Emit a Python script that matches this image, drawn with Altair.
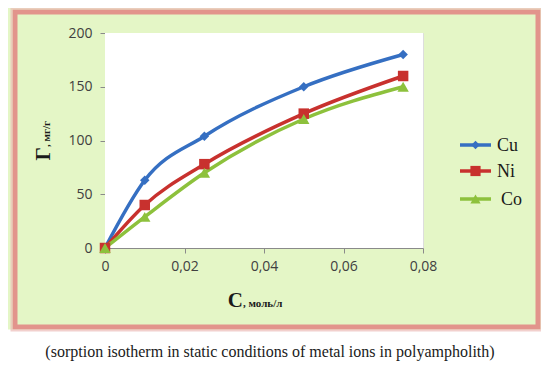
import altair as alt
import pandas as pd

# ---- data ----
conc = [0.0, 0.01, 0.025, 0.05, 0.075]
cu = [0, 63, 104, 150, 180]
ni = [0, 40, 78, 125, 160]
co = [0, 29, 70, 120, 150]
series = ["Cu", "Ni", "Co"]
colors = ["#356fc2", "#c8312e", "#8dc13c"]
shapes = ["diamond", "square", "triangle-up"]
sizes = [90, 130, 130]
x_ticks = [0, 0.02, 0.04, 0.06, 0.08]
y_ticks = [0, 50, 100, 150, 200]
caption = "(sorption  isotherm in static conditions of metal ions in polyampholith)"

W, H = 318, 215

rows = []
for name, vals in zip(series, [cu, ni, co]):
    for c, v in zip(conc, vals):
        rows.append({"series": name, "C": c, "G": v})
df = pd.DataFrame(rows)

one = pd.DataFrame({"a": [0]})

layers = []

FX0, FX1, FY0, FY1 = -90, 433, -21, 294   # frame stroke centre line

# white plot area
layers.append(alt.Chart(one).mark_rect(color="white", opacity=1).encode(
    x=alt.value(0), x2=alt.value(W), y=alt.value(0), y2=alt.value(H)))

# white strip below the frame for the caption
layers.append(alt.Chart(one).mark_rect(color="white", opacity=1).encode(
    x=alt.value(-100), x2=alt.value(440), y=alt.value(FY1 + 2.5), y2=alt.value(H + 130)))

layers.append(alt.Chart(one).mark_rect(fillOpacity=0, stroke="#e2948c", strokeWidth=5).encode(
    x=alt.value(FX0), x2=alt.value(FX1), y=alt.value(FY0), y2=alt.value(FY1)))
layers.append(alt.Chart(one).mark_rect(fillOpacity=0, stroke="#ecbcb8", strokeWidth=2,
                                       strokeOpacity=0.7).encode(
    x=alt.value(FX0 - 3.5), x2=alt.value(FX1 + 3.5), y=alt.value(FY0 - 3.5), y2=alt.value(FY1 + 3.5)))

xscale = alt.Scale(domain=[0, 0.08], nice=False)
yscale = alt.Scale(domain=[0, 200], nice=False)

xaxis = alt.Axis(values=x_ticks, title=None, grid=False,
                 labelExpr="datum.value == 0 ? '0' : replace(format(datum.value, '.2f'), '.', ',')",
                 labelFont="Open Sans", labelFontSize=14, labelColor="#404040",
                 labelPadding=6, domainColor="#8a8a8a", tickColor="#8a8a8a", tickSize=5,
                 labelFlush=False)
yaxis = alt.Axis(values=y_ticks, title=None, grid=False,
                 labelFont="Open Sans", labelFontSize=14, labelColor="#404040",
                 labelPadding=8, domainColor="#8a8a8a", tickColor="#8a8a8a", tickSize=5)

base = alt.Chart(df).encode(
    x=alt.X("C:Q", scale=xscale, axis=xaxis),
    y=alt.Y("G:Q", scale=yscale, axis=yaxis),
    color=alt.Color("series:N", scale=alt.Scale(domain=series, range=colors), legend=None),
)

lines = base.mark_line(strokeWidth=3.5, interpolate="monotone").encode(detail="series:N")
points = base.mark_point(filled=True, opacity=1).encode(
    shape=alt.Shape("series:N", scale=alt.Scale(domain=series, range=shapes), legend=None),
    size=alt.Size("series:N", scale=alt.Scale(domain=series, range=sizes), legend=None),
)

layers += [lines, points]

# manual legend
leg_y = [112, 138, 166]
for name, col, shp, sz, yy in zip(series, colors, shapes, sizes, leg_y):
    ldf = pd.DataFrame({"series": [name]})
    layers.append(alt.Chart(ldf).mark_rule(color=col, strokeWidth=3.5).encode(
        x=alt.value(355), x2=alt.value(386), y=alt.value(yy)))
    layers.append(alt.Chart(ldf).mark_point(filled=True, opacity=1, color=col, shape=shp,
                                            size=sz * 0.8).encode(
        x=alt.value(370.5), y=alt.value(yy)))
    layers.append(alt.Chart(ldf).mark_text(align="left", baseline="middle", font="Liberation Serif",
                                           fontSize=18, color="#1a1a1a").encode(
        x=alt.value(392 if name != "Co" else 396), y=alt.value(yy + 1), text="series:N"))

# axis titles
layers.append(alt.Chart(one).mark_text(text="C", align="right", baseline="alphabetic",
                                       font="Liberation Serif", fontSize=21, fontWeight="bold",
                                       color="#1a1a1a").encode(x=alt.value(138), y=alt.value(274)))
layers.append(alt.Chart(one).mark_text(text=" , моль/л", align="left", baseline="alphabetic",
                                       font="Liberation Serif", fontSize=11, fontWeight="bold",
                                       color="#1a1a1a").encode(x=alt.value(138), y=alt.value(274)))
layers.append(alt.Chart(one).mark_text(text="Г", align="right", baseline="alphabetic", angle=270,
                                       font="Liberation Serif", fontSize=21, fontWeight="bold",
                                       color="#1a1a1a").encode(x=alt.value(-55), y=alt.value(114)))
layers.append(alt.Chart(one).mark_text(text=" , мг/г", align="left", baseline="alphabetic", angle=270,
                                       font="Liberation Serif", fontSize=11, fontWeight="bold",
                                       color="#1a1a1a").encode(x=alt.value(-55), y=alt.value(114)))

# caption
layers.append(alt.Chart(one).mark_text(text=caption, align="center", baseline="middle",
                                       font="Liberation Serif", fontSize=16,
                                       color="#1a1a1a").encode(x=alt.value(165), y=alt.value(319)))

chart = alt.layer(*layers).properties(
    width=W, height=H,
    autosize=alt.AutoSizeParams(type="none"),
    padding={"left": 97, "top": 25, "right": 118, "bottom": 114},
).configure_view(stroke=None).configure(background="#e4f6c6")

chart.save("out.html", embed_options={"renderer": "svg", "actions": False})
